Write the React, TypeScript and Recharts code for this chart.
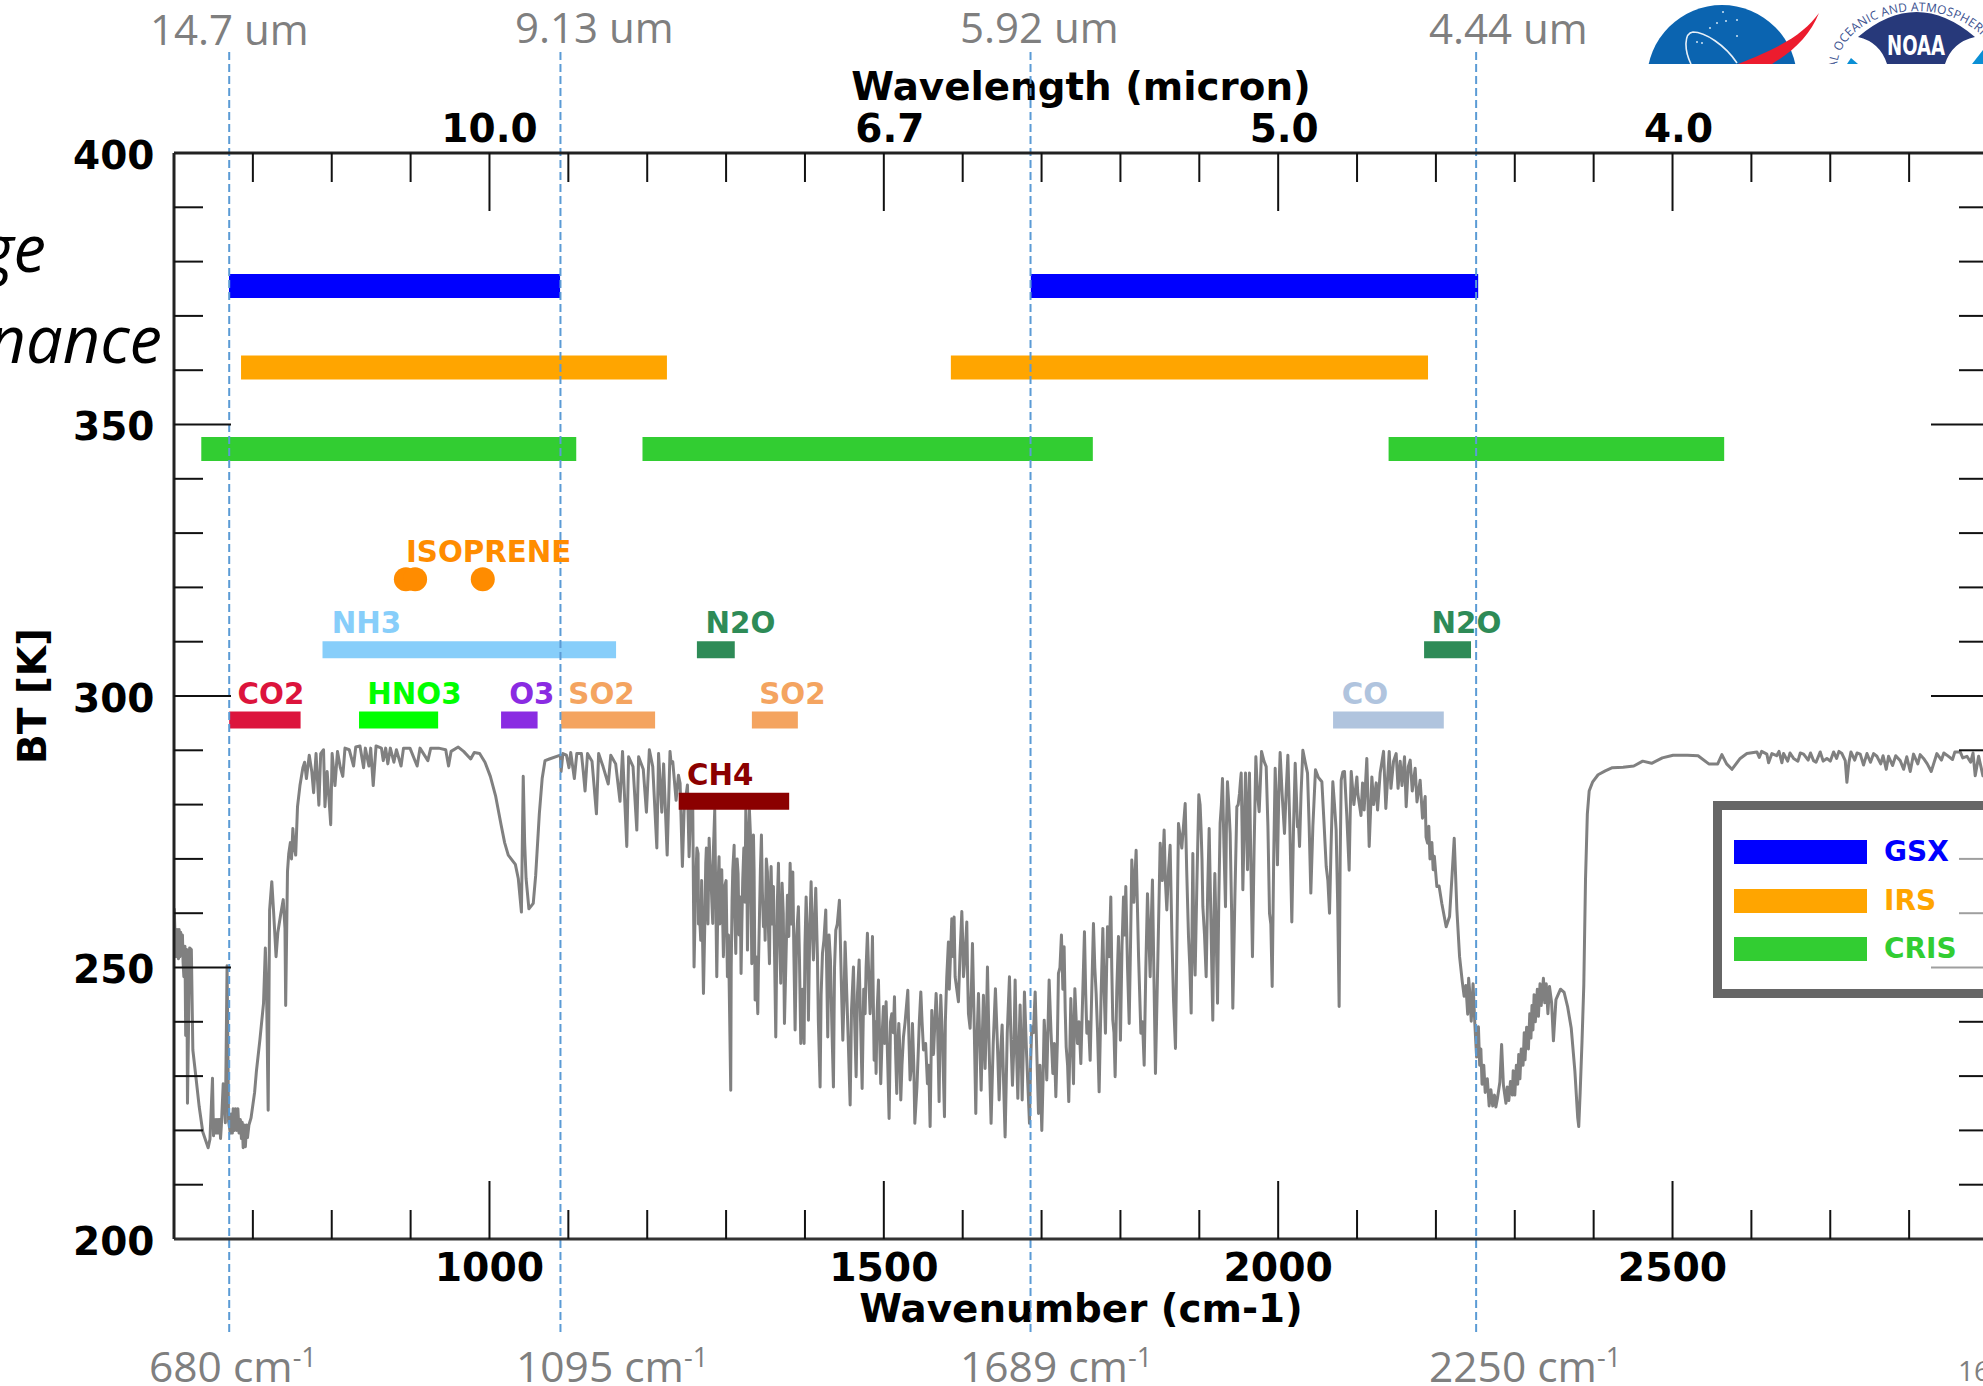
import React from 'react';
import { ComposedChart, Line, XAxis, YAxis, ReferenceLine, ReferenceDot, Legend } from 'recharts';

const FONT = '"DejaVu Sans", sans-serif';
const ANNOT = '"Open Sans", sans-serif';

const wnTicks = [700, 800, 900, 1000, 1100, 1200, 1300, 1400, 1500, 1600, 1700, 1800, 1900, 2000, 2100, 2200, 2300, 2400, 2500, 2600, 2700, 2800];
const btTicks = [200, 210, 220, 230, 240, 250, 260, 270, 280, 290, 300, 310, 320, 330, 340, 350, 360, 370, 380, 390, 400];
const micronLabels: Record<number, string> = { 1000: '10.0', 1500: '6.7', 2000: '5.0', 2500: '4.0' };

const spectrumCO2 = [
  [600.3,260.9],[601.5,255],[602.6,252],[603.3,254],[604,257],[605.7,251.6],[606.5,257],[607.5,252],[608.5,256.5],[609.5,252.5],[610.7,256],[611.5,251],[612.5,248.3],[613.9,253.9],[614.8,237.5],[616.2,253.3],[617.1,225],[619.8,253.6],[622,253.3],[623.9,234.8],[627.5,230.2],[632,224.3],[636.5,219.7],[643.3,216.8],[645.6,218.4],[648.8,229.6],[650.1,219],[651,222],[652.4,219.5],[653.5,222],[654.5,219.5],[656,222],[656.9,219.5],[658,222],[659,218.5],[660.1,221],[662.4,228.6],[665.1,221.4],[667.3,250.3],[669.2,221.7],[671.4,219.5],[672.5,223],[674,219.5],[675,224],[676.5,220],[678,224],[679.6,220],[681,224],[682.5,219.5],[684.1,222],[685.5,218.5],[686.5,221.5],[687.7,216.8],[689,221],[690.5,217],[692,221],[693.2,218.7],[695,221],[697.7,222.3],[702.2,227],[704.5,230.9],[709,236.8],[713.5,243.4],[715.8,253.6],[717.2,247.3],[719.4,223.7],[721.2,260.5],[724,265.8],[726.2,260.5],[729.4,252],[731.7,256.5],[735.3,259.8],[738.5,262.5],[740.7,257.2],[741.6,243],[743.9,267.7],[745.5,271],[747.5,273],[749,270],[750.7,275.6],[752.5,272],[754.3,270.7],[756.6,279.6],[759.7,283.5],[763.4,286.8],[765.6,287.8],[767.9,284.8],
];
const spectrumWindow = [
  [771.5,289.1],[774.7,286.1],[777,282.2],[780.1,289.4],[783.7,279.9],[786,289.4],[789.6,290.1],[791.4,279.6],[794.2,286.1],[798.7,276.3],[800.5,289.4],[804.1,283.5],[807.3,289.8],[810.9,286.8],[814,285.2],[816.8,290.4],[822.2,290.1],[827.7,287.1],[830.4,290.6],[835.8,290.8],[840.4,286.8],[842.6,290.4],[847.1,287.1],[849.4,290.4],[852.6,283.5],[856.2,290.8],[863,290.4],[865.3,288.1],[868.4,290.4],[871.1,287.5],[874.3,290.4],[878.8,287.8],[882,290.1],[887.9,287.1],[891,290.4],[899.2,290.4],[908.3,287.1],[911.9,290.4],[921.9,288.1],[925.5,290.4],[935.5,290.4],[944.5,290.1],[948.1,287.1],[951.3,289.8],[960.4,290.6],[967.2,289.8],[976.2,288.4],[980.7,289.6],[987.5,289.4],[994.3,287.8],
];
const spectrumOzone = [
  [1001.1,285.2],[1007.9,281.5],[1014.7,276.3],[1019.2,273],[1023.8,270.7],[1032.8,269],[1036.5,266.4],[1040.5,260.2],[1042.8,285.2],[1044.6,273],[1046.4,266.4],[1050,260.8],[1055.5,261.8],[1058.6,267],[1063.2,278.3],[1066.8,284.8],[1070.4,288.1],[1075.9,288.4],[1089.9,289.1],[1090.8,286.1],[1093.1,289.4],[1097.6,289.1],[1100.8,286.8],[1103,289.6],[1105.5,287],[1107.6,284.8],[1110.7,289.4],[1116.6,289.4],[1119,286],[1121.2,282.5],[1124.3,289.4],[1130,288],[1135.6,278.3],[1138.4,289.4],[1144,287],[1150.6,283.8],[1153.8,289.1],[1160,287.5],[1165.5,280.6],[1168.7,289.8],[1174.1,272.3],[1176.4,288.8],[1182,287],[1186.8,275.3],[1189.1,288.8],[1195,286.5],[1199,278.6],[1202.7,290.1],[1207,287],[1212.2,272],[1214.4,289.4],[1218.5,278.6],[1220.8,287.5],[1225.3,270.7],[1228.9,289.8],
];
const spectrumWaterA = [
  [1230.3,287.6],[1232.4,287.9],[1236.6,280.8],[1239.6,285.4],[1241.7,283.9],[1244.6,268.6],[1246.8,279],[1251,283.6],[1253.1,270.4],[1255.6,281.4],[1257.7,280.2],[1259.4,250.1],[1262,267.9],[1264.5,271],[1266.2,260],[1267.9,255],[1271.3,245.2],[1274.2,269.2],[1276.3,262.4],[1278.5,273.8],[1280.6,267.3],[1283.1,258.1],[1285.6,279],[1288.2,248.3],[1291.1,270.4],[1293.3,264.9],[1296.6,252],[1298.7,265.2],[1301.7,248.3],[1305.9,227.4],[1307.6,262.4],[1310.2,272.5],[1312.3,252.6],[1315.2,267.3],[1319,248.9],[1321.1,266.1],[1325,279],[1327.1,253.2],[1329.6,279],[1332.6,250.7],[1334.7,274.4],[1336.8,244],[1340.2,241.5],[1342.3,259.3],[1344.8,274.4],[1347.4,257.5],[1349.5,255],[1352.4,267.6],[1355,250.7],[1357.1,268.6],[1360,264.9],[1363,237.2],[1366.4,269.2],[1369.3,247.1],[1371,265.5],[1374,239.7],[1377.8,263.3],[1379.5,255.7],[1381.2,269.2],[1384.6,267.6],[1387.5,238.5],[1391.7,261.2],[1394.7,236],[1398.9,236],[1401.5,263],[1404.4,240.3],[1407.8,265.8],[1410.8,251.4],[1413.7,264.6],[1415.8,252],[1419.2,228],[1422.2,252.6],[1426.4,260.6],[1428.9,237.2],[1432.3,251.4],[1436.1,228],[1439.1,256.9],[1443.7,262.4],[1448,236.6],[1450.9,254.7],[1453,245.2],[1457.3,224.7],[1461.5,250.1],[1464.9,229.9],[1468.7,251.4],[1472.5,227.7],[1476.3,241.5],[1479.2,256.3],[1482.6,241.5],[1485.6,255.7],[1487.7,232.9],[1490.2,230.5],[1493.2,247.7],[1496.1,228.6],[1499.5,242.8],[1502.9,243.7],[1506.7,222.2],[1510.1,241.5],[1513.5,244.6],[1516.4,226.8],[1519,239.7],[1521.5,225.6],[1524.9,237.2],[1530.4,245.8],[1533.3,229.3],[1536.3,239.7],[1539.3,221.3],[1543.9,235.4],[1546.9,245.5],[1550.3,234.8],[1555.3,228.6],[1558.7,220.7],
];
const spectrumWaterADetail = [
  [1261,262],[1263,272],[1265,258],[1269,266],[1273,258],[1275,272],[1277,258],[1279.5,270],[1282,262],[1284,272],[1287,262],[1290,266],[1292,258],[1294.5,268],[1297.5,258],[1300,266],[1303,256],[1306.5,250],[1308.5,268],[1311,260],[1314,270],[1316.5,256],[1318,263],[1320,258],[1322.5,272],[1324,262],[1326,275],[1328,262],[1331,274],[1333.5,262],[1335.5,268],[1338,252],[1341,250],[1343.5,268],[1346,264],[1348.5,262],[1351,270],[1353.5,258],[1356,264],[1358.5,258],[1361.5,252],[1365,262],[1367.5,258],[1370,256],[1372.5,260],[1376,252],[1379,260],[1383,258],[1386,252],[1389.5,256],[1393,252],[1397,246],[1400,254],[1403,256],[1406,256],[1409,258],[1412,258],[1417,240],[1420.5,245],[1424,255],[1427.5,250],[1430.5,256],[1434,240],[1437.5,250],[1441,258],[1446,248],[1449.5,244],[1452,250],[1455,236],[1459,242],[1463,240],[1466.5,245],[1470.5,240],[1474.5,246],[1477.5,250],[1481,248],[1484,246],[1489,240],[1491.5,242],[1494.5,238],[1498,238],[1501,236],[1505,232],[1508.5,240],[1512,238],[1515,234],[1517.5,235],[1520,236],[1523,232],[1527,240],[1532,236],[1535,232],[1538,232],[1542,228],[1545,240],[1548.5,240],[1553,236],[1557,232],
];
const spectrumWaterB = [
  [1560.8,242.1],[1566.3,245.2],[1570.1,225.3],[1572.2,244.9],[1576.9,222.5],[1579.8,248.3],[1581.9,254.7],[1586.2,259],[1589.1,259.3],[1590.4,248.3],[1594.6,243.7],[1598.9,260.3],[1601,248.3],[1605.2,258.4],[1607.3,241.5],[1609.4,238.8],[1612.4,254.4],[1616.6,223.1],[1620,245.2],[1623.4,227.4],[1626.3,244.9],[1628.4,231.4],[1631.4,250.1],[1636,221.3],[1641.5,246.1],[1646.2,225.6],[1650,239.4],[1653.8,218.8],[1659.3,248.3],[1663.1,228.3],[1666.5,247.7],[1669.9,225.9],[1672.8,243.1],[1675.4,225.6],[1678.3,245.5],[1684.7,221.3],[1687.6,239.1],[1691.9,245.5],[1696.1,223.1],[1700.3,220],[1703.3,240.3],[1706.6,229.3],[1709.6,247.7],[1714.3,230.5],[1718.1,226.2],[1721.4,248.9],[1725.2,256],[1728.6,253.8],[1731.2,235.4],[1734.5,225.3],[1737.1,244.3],[1740.5,228.6],[1742.2,246.1],[1745.5,236],[1749.8,232.3],[1754.4,256.6],[1757.4,237.9],[1761.6,232.9],[1765.8,258.1],[1769.2,245.2],[1773,227.1],[1777.7,257.2],[1781,237.9],[1783.6,257.5],[1787.8,263],[1790.3,240.3],[1793.3,229.9],[1797.5,255.7],[1800,236.6],[1803.9,263],[1806.8,264.9],[1811.1,239.7],[1814.4,269.8],[1819.9,271.6],[1825.9,237.9],[1830.1,232],[1834.3,263.6],[1837.7,248.3],[1840.6,266.1],[1844.4,230.5],[1850.4,272.9],[1855.4,275.3],[1858.8,260.6],[1863,272.5],[1867.3,244],[1869.8,235.1],[1873.6,276.5],[1882.1,280.2],[1886.3,255.7],
];
const spectrumWaterBDetail = [
  [1563,234],[1568,240],[1571,236],[1574.5,236],[1578,240],[1583,246],[1588,252],[1592.5,246],[1596.5,252],[1600,255],[1603,252],[1606.3,248],[1611,246],[1614.5,240],[1618,236],[1621.7,236],[1625,238],[1627.4,236],[1630,240],[1633.7,234],[1638.7,236],[1644,236],[1648,234],[1652,228],[1656.5,238],[1661,238],[1665,236],[1668,236],[1671.4,236],[1674,236],[1677,236],[1681,234],[1686,232],[1689.7,238],[1694,234],[1698,232],[1702,230],[1705,236],[1708,238],[1712,238],[1716.2,236],[1720,236],[1723.3,250],[1727,246],[1730,242],[1733,232],[1736,236],[1739,236],[1741.5,240],[1744,240],[1747.5,240],[1752,244],[1756,245],[1759.5,240],[1763.7,246],[1767.5,250],[1771,238],[1775.5,245],[1779.3,246],[1782.5,250],[1785.7,252],[1789,250],[1791.8,238],[1795.4,246],[1798.8,248],[1802,254],[1805.3,256],[1809,250],[1813,256],[1817,262],[1823,252],[1828,240],[1832.2,250],[1836,256],[1839,258],[1842.5,248],[1847.5,252],[1853,266],[1857,266],[1861,268],[1865.2,256],[1871.7,256],[1877.8,272],[1884,268],[1888,250],
];
const spectrumWaterC = [
  [1889.7,241.6],[1891.8,271],[1894.7,248.6],[1899.4,281.8],[1902.3,275.3],[1904.5,261.2],[1908.7,248.3],[1912.5,275.6],[1917.1,240.3],[1919.7,267.3],[1923.1,243.4],[1926.4,276.6],[1929.4,284.8],[1933.2,261.2],[1935.7,284.2],[1939.1,274.7],[1942.5,242.5],[1947.6,279.6],[1951,282.1],[1953.1,285.8],[1955.2,264.3],[1958.6,285.8],[1961.1,268],[1963.6,285.8],[1967.4,252],[1971.7,288.8],[1975.9,278.7],[1978.9,289.8],[1984.8,287],[1989,260],[1992.4,246.5],[1996.2,286.7],[1999.1,268.9],[2002.5,289.6],[2008,274.7],[2012.3,289.1],[2017.3,258.4],[2021.6,287.6],[2024.5,275.9],[2027.1,272.3],[2031.3,290],[2037.2,285.8],[2041.4,263.7],[2047.3,286.4],[2055.4,284.2],[2060.9,268.6],[2065.1,260],[2069.3,284.2],[2073.5,275.3],[2077.3,242.8],[2079.9,284.5],[2084.1,286.1],[2090,267.9],[2092.6,286.1],[2099.8,285.1],[2103,280],[2107,284],[2109,279],[2112.4,288.5],[2115.4,272.3],[2118.8,285.1],[2121,280],[2124.3,284],[2126,279],[2129.3,285.8],[2133.6,289.8],[2136.5,279.3],[2140.8,289.8],[2143,283],[2146.3,288],[2149.6,289.4],[2152,283],[2154.7,288],[2157,283.5],[2160.2,288.8],[2162.3,279.6],[2165,287],[2167.4,288.2],[2170,282.5],[2173.7,286.7],[2176,280.5],[2180,284.5],[2183,277.5],[2185,280],[2186.4,281.5],[2187.5,274],[2189.4,272.9],[2191,276],[2192.5,270],[2194.9,273],[2196.5,268],[2198,270.5],[2201.2,264.9],[2204,265],[2207.5,261.8],[2213,257.5],[2217.3,259.4],[2220.6,267.3],[2223.2,273.8],[2226.6,260.6],[2230,252],
];
const spectrumWaterCDetail = [
  [1890.7,256],[1893,256],[1897,266],[1901,280],[1903.4,270],[1906.6,256],[1910.6,264],[1914.8,258],[1918.4,258],[1921.4,256],[1924.7,262],[1928,280],[1931.3,272],[1934.4,276],[1937.4,280],[1941,260],[1945,262],[1949.3,280],[1952,284],[1954.2,276],[1957,276],[1959.9,278],[1962.3,278],[1965.5,268],[1969.5,272],[1973.8,282],[1977.4,284],[1982,288],[1987,276],[1990.7,258],[1994.3,270],[1997.6,280],[2000.8,282],[2005,282],[2010,282],[2014.8,276],[2019.5,276],[2023,282],[2026,276],[2029,282],[2034,288],[2039.3,276],[2044,276],[2051,285],[2058,277],[2063,266],[2067,272],[2071.4,280],[2075.4,262],[2078.6,270],[2082,286],[2087,278],[2091.3,278],[2096,280],[2101,282],[2105,278],
];
const spectrumN2OCO2 = [
  [2233.5,247.3],[2235.8,244.7],[2238,246.7],[2240.3,241.4],[2241.5,248],[2242.6,246],[2244.8,240.1],[2247.1,247],[2249.3,239.8],[2251.6,233.5],[2253.9,239.1],[2255.5,232],[2257,235],[2258.5,228.5],[2260.7,232],[2262.5,227],[2265.2,229.5],[2267.5,224.5],[2269.7,227.5],[2272,224.5],[2274.3,226.5],[2276,224.3],[2277.9,225.8],[2281.1,228.9],[2283.3,235.8],[2285.6,228.3],[2288.8,225],[2290.5,228],[2292.4,225.5],[2294.5,229],[2296.9,226.5],[2298,231],[2300,226.5],[2302,232],[2303.7,228.5],[2305,234],[2306.5,229.5],[2308.2,235],[2310.5,232],[2312,238],[2313,233],[2315,239],[2317.3,235],[2319,241.5],[2320.5,237],[2321.8,243],[2323,238.5],[2324.5,245],[2326,240],[2328.6,246],[2330,241],[2332,247],[2333.5,243],[2336.3,248],[2338,243.5],[2339.9,247],[2342,241.5],[2344,246.5],[2346.7,243.5],[2349,236.5],[2352.2,244.1],[2358,246],[2362.6,245.4],[2367.1,242.7],[2371.6,238.8],[2376.2,230.9],[2379.8,222.3],[2381.1,220.7],[2382.9,227],[2385.2,236.2],[2387.5,246.7],[2389.7,266.4],[2392,278.3],[2394.3,282.5],[2398.8,284.2],
];
const spectrumShortwave = [
  [2405.6,285.5],[2414.7,286.2],[2423.7,286.8],[2437.3,286.9],[2450.9,287.1],[2462.2,288],[2473.5,287.6],[2487.1,288.6],[2500.7,289.1],[2518.8,289.1],[2532.4,289],[2546,287.5],[2557.3,287.5],[2562.6,289.2],[2568.6,287.5],[2575.3,286.5],[2585.8,288.5],[2594.3,289.4],[2607,289.7],[2610,288.7],[2613,289.8],[2619.6,289.3],[2621.8,287.7],[2626,289.4],[2632,289],[2635,289.8],[2638.7,287.7],[2640.8,289.4],[2646,288],[2649,289.5],[2653.5,288.5],[2659,288],[2662,289.5],[2666.2,289.3],[2672,288.2],[2675,289.5],[2678.8,288.1],[2682,287.8],[2687.3,289.7],[2691,288],[2695.7,288.5],[2700,288],[2704.2,289.7],[2708,288.5],[2711,289.8],[2714.8,289.4],[2719,288.1],[2721.1,284.1],[2723.6,287.7],[2726.2,289.7],[2731,288.2],[2734,289.5],[2738,289.3],[2742.2,287.3],[2746.5,289.4],[2751,287.8],[2755,289.4],[2759.1,288.9],[2764,287.5],[2767,289],[2771,286.5],[2773.9,288.9],[2779,287.2],[2783,289],[2788.7,288.1],[2793,286.5],[2797,288.8],[2801.4,286.1],[2805.6,289.3],[2811,287.5],[2814,289.2],[2818.3,288.5],[2823,287.5],[2828,286.1],[2835.2,289.4],[2841,288.2],[2844,289.5],[2847.9,289.1],[2855,288.3],[2858,289.7],[2864.8,289.7],[2868,288.6],[2873.3,288.9],[2878,287.8],[2881,289.5],[2883.8,285.3],[2888.1,288.9],[2893.6,285.3],[2900,289],
];
const spectrum = [
  ...spectrumCO2, ...spectrumWindow, ...spectrumOzone, ...spectrumWaterA, ...spectrumWaterADetail,
  ...spectrumWaterB, ...spectrumWaterBDetail, ...spectrumWaterC, ...spectrumWaterCDetail, ...spectrumN2OCO2, ...spectrumShortwave,
]
  .sort((a, b) => a[0] - b[0])
  .map(([wn, bt]) => ({ wn, bt }));

const instruments = [
  { name: 'GSX', color: '#0000FF', bt: 375.5, ranges: [[669.7, 1089.5], [1686.4, 2253.6]] },
  { name: 'IRS', color: '#FFA500', bt: 360.5, ranges: [[685, 1225], [1585, 2190]] },
  { name: 'CRIS', color: '#32CD32', bt: 345.5, ranges: [[634.6, 1110], [1194, 1765], [2140, 2565.5]] },
];
const species = [
  { name: 'CO2', color: '#DC143C', bt: 295.6, from: 670, to: 760.5, labelWn: 680.5, labelBt: 298.6 },
  { name: 'HNO3', color: '#00FF00', bt: 295.6, from: 834.6, to: 934.9, labelWn: 845, labelBt: 298.6 },
  { name: 'O3', color: '#8A2BE2', bt: 295.6, from: 1014.7, to: 1061, labelWn: 1025, labelBt: 298.6 },
  { name: 'SO2', color: '#F4A460', bt: 295.6, from: 1090.8, to: 1210, labelWn: 1100, labelBt: 298.6 },
  { name: 'SO2', color: '#F4A460', bt: 295.6, from: 1332.7, to: 1391, labelWn: 1342, labelBt: 298.6 },
  { name: 'CO', color: '#B0C4DE', bt: 295.6, from: 2069.6, to: 2210, labelWn: 2080.5, labelBt: 298.6 },
  { name: 'CH4', color: '#8B0000', bt: 280.6, from: 1239.9, to: 1380, labelWn: 1250.5, labelBt: 283.6 },
  { name: 'NH3', color: '#87CEFA', bt: 308.5, from: 788.3, to: 1160.5, labelWn: 800, labelBt: 311.6 },
  { name: 'N2O', color: '#2E8B57', bt: 308.5, from: 1263, to: 1311, labelWn: 1274, labelBt: 311.6 },
  { name: 'N2O', color: '#2E8B57', bt: 308.5, from: 2185, to: 2244.5, labelWn: 2194.5, labelBt: 311.6 },
];
const isoprene = [{ wn: 894, bt: 321.5 }, { wn: 905.7, bt: 321.5 }, { wn: 991.5, bt: 321.5 }];
const isopreneLabel = { wn: 894, bt: 324.6 };
const channelEdges = [670, 1090, 1686, 2251];
const topAnnotations = [
  { text: '14.7 um', x: 150, y: 45 },
  { text: '9.13 um', x: 515, y: 43 },
  { text: '5.92 um', x: 960, y: 43 },
  { text: '4.44 um', x: 1429, y: 44 },
];
const bottomAnnotations = [
  { text: '680 cm', x: 149 },
  { text: '1095 cm', x: 516 },
  { text: '1689 cm', x: 960 },
  { text: '2250 cm', x: 1429 },
];

const BottomTick = ({ x, y, payload }: any) => {
  const major = payload.value % 500 === 0;
  return (
    <g>
      <line x1={x} x2={x} y1={y} y2={y - (major ? 58 : 29)} stroke="#111" strokeWidth={2} />
      {major && (
        <text x={x} y={y + 42} textAnchor="middle" fontFamily={FONT} fontWeight={700} fontSize={39.3} fill="#000">
          {payload.value}
        </text>
      )}
    </g>
  );
};
const TopTick = ({ x, y, payload }: any) => {
  const label = micronLabels[payload.value];
  return (
    <g>
      <line x1={x} x2={x} y1={y} y2={y + (label ? 58 : 29)} stroke="#111" strokeWidth={2} />
      {label && (
        <text x={x + (payload.value === 1000 ? 0 : 6)} y={y - 11} textAnchor="middle" fontFamily={FONT} fontWeight={700} fontSize={39} fill="#000">
          {label}
        </text>
      )}
    </g>
  );
};
const LeftTick = ({ x, y, payload }: any) => {
  const major = payload.value % 50 === 0;
  return (
    <g>
      {payload.value > 200 && payload.value < 400 && (
        <line x1={x} x2={x + (major ? 57 : 29)} y1={y} y2={y} stroke="#111" strokeWidth={2} />
      )}
      {major && (
        <text x={x - 19.5} y={y + 15.5} textAnchor="end" fontFamily={FONT} fontWeight={700} fontSize={39} fill="#000">
          {payload.value}
        </text>
      )}
    </g>
  );
};
const RightTick = ({ x, y, payload }: any) => {
  const major = payload.value % 50 === 0;
  if (payload.value <= 200 || payload.value >= 400) return <g />;
  return <line x1={x} x2={x - (major ? 57 : 29)} y1={y} y2={y} stroke="#111" strokeWidth={2} />;
};

const bandLabel = (name: string, color: string) => (p: any) => (
  <text x={p.cx} y={p.cy} fontFamily={FONT} fontWeight={700} fontSize={29.3} fill={color}>
    {name}
  </text>
);

const LegendBox = () => (
  <div style={{ position: 'relative', boxSizing: 'border-box', width: 340, height: 197, border: '9px solid #666', background: 'rgba(255,255,255,0.6)' }}>
    {instruments.map((d, i) => (
      <React.Fragment key={d.name}>
        <div style={{ position: 'absolute', left: 12, top: 30 + i * 48.5, width: 133, height: 24, background: d.color }} />
        <div style={{ position: 'absolute', left: 162, top: 25 + i * 48.5, fontFamily: FONT, fontWeight: 700, fontSize: 28, lineHeight: '34px', color: d.color }}>
          {d.name}
        </div>
      </React.Fragment>
    ))}
  </div>
);

const Logos = () => (
  <g>
    <defs>
      <clipPath id="logoClip"><rect x={1640} y={0} width={343} height={64} /></clipPath>
      <path id="noaaArc" d="M1837,69 A79.5,58 0 0 1 1996,69" fill="none" />
    </defs>
    <g clipPath="url(#logoClip)">
      <circle cx={1722} cy={80} r={75} fill="#0B64B0" />
      <path d="M1737,63 C1725,45 1705,32 1693,32 C1684,33 1684,50 1691,64" fill="none" stroke="#E8F0F8" strokeWidth={1.6} />
      {[[1723, 12], [1737, 20], [1726, 21], [1717, 23], [1737, 36], [1710, 28], [1697, 42], [1702, 43]].map(([cx, cy], i) => (
        <circle key={i} cx={cx} cy={cy} r={1} fill="#CFE3F5" />
      ))}
      <path d="M1819,13 C1805,32 1785,46 1738,64 L1772,64 C1795,50 1810,35 1819,13 Z" fill="#EC1C2E" />
      <path d="M1847,64 L1851,58 L1858,64 Z" fill="#0A8FD5" />
      <path d="M1972,64 L1983,50 L1983,64 Z" fill="#0A8FD5" />
      <path d="M1858,37 Q1916.5,-13 1975,37 Q1952,42 1945,64 L1887,64 Q1880,42 1858,37 Z" fill="#27397A" />
      <text x={1887} y={55} textLength={58} lengthAdjust="spacingAndGlyphs" fontFamily={FONT} fontWeight={700} fontSize={27} fill="#fff">NOAA</text>
      <text fontFamily={ANNOT} fontSize={12} fill="#3C5290" letterSpacing={0.2}>
        <textPath href="#noaaArc">AL OCEANIC AND ATMOSPHERIC AD</textPath>
      </text>
    </g>
  </g>
);

const Annotations = () => (
  <g>
    {topAnnotations.map((d) => (
      <text key={d.text} x={d.x} y={d.y} fontFamily={ANNOT} fontSize={42} fill="#7F7F7F">{d.text}</text>
    ))}
    {bottomAnnotations.map((d) => (
      <text key={d.text} x={d.x} y={1382} fontFamily={ANNOT} fontSize={42.5} fill="#7F7F7F">
        {d.text}
        <tspan dy={-15} fontSize={27}>-1</tspan>
      </text>
    ))}
    <text x={1958} y={1381} fontFamily={ANNOT} fontSize={28} fill="#7F7F7F">16</text>
    <text x={46} y={272} textAnchor="end" fontFamily={ANNOT} fontStyle="italic" fontSize={65} fill="#000">ge</text>
    <text x={162} y={363} textAnchor="end" fontFamily={ANNOT} fontStyle="italic" fontSize={65} fill="#000">nance</text>
    <text x={1081} y={100} textAnchor="middle" fontFamily={FONT} fontWeight={700} fontSize={38.8} fill="#000">Wavelength (micron)</text>
    <text x={1081} y={1322} textAnchor="middle" fontFamily={FONT} fontWeight={700} fontSize={38.8} fill="#000">Wavenumber (cm-1)</text>
    <text transform="translate(46,696) rotate(-90)" textAnchor="middle" fontFamily={FONT} fontWeight={700} fontSize={39} fill="#000">BT [K]</text>
    <Logos />
  </g>
);

export default function App() {
  return (
    <div style={{ position: 'absolute', left: 0, top: 0, width: 1983, height: 1386, overflow: 'hidden', background: '#fff' }}>
      <ComposedChart width={2100} height={1386} margin={{ left: 20, top: 53, right: 72, bottom: 47 }}>
        <XAxis dataKey="wn" type="number" domain={[600, 2900]} allowDataOverflow ticks={wnTicks} interval={0} height={100} tickSize={0} tickMargin={0} tickLine={false} tick={BottomTick} axisLine={{ stroke: '#333', strokeWidth: 3 }} />
        <XAxis xAxisId="top" orientation="top" dataKey="wn" type="number" domain={[600, 2900]} allowDataOverflow ticks={wnTicks} interval={0} height={100} tickSize={0} tickMargin={0} tickLine={false} tick={TopTick} axisLine={{ stroke: '#222', strokeWidth: 3 }} />
        <YAxis type="number" domain={[200, 400]} allowDataOverflow ticks={btTicks} interval={0} width={154} tickSize={0} tickMargin={0} tickLine={false} tick={LeftTick} axisLine={{ stroke: '#222', strokeWidth: 3 }} />
        <YAxis yAxisId="right" orientation="right" type="number" domain={[200, 400]} allowDataOverflow ticks={btTicks} interval={0} width={40} tickSize={0} tickMargin={0} tickLine={false} tick={RightTick} axisLine={{ stroke: '#222', strokeWidth: 3 }} />

        <Line data={spectrum} dataKey="bt" stroke="#808080" strokeWidth={3} dot={false} isAnimationActive={false} legendType="none" strokeLinejoin="round" />

        {instruments.flatMap((d) =>
          d.ranges.map((r, i) => (
            <Line key={`${d.name}-${i}`} data={[{ wn: r[0], bt: d.bt }, { wn: r[1], bt: d.bt }]} dataKey="bt" stroke={d.color} strokeWidth={24} dot={false} isAnimationActive={false} legendType="none" />
          ))
        )}
        {species.map((d, i) => (
          <Line key={`${d.name}-${i}`} data={[{ wn: d.from, bt: d.bt }, { wn: d.to, bt: d.bt }]} dataKey="bt" stroke={d.color} strokeWidth={17} dot={false} isAnimationActive={false} legendType="none" />
        ))}
        <Line data={isoprene} dataKey="bt" stroke="none" dot={{ r: 12, fill: '#FF8C00', stroke: 'none' }} isAnimationActive={false} legendType="none" />

        {species.map((d, i) => (
          <ReferenceDot key={`l-${i}`} x={d.labelWn} y={d.labelBt} r={0} shape={bandLabel(d.name, d.color)} />
        ))}
        <ReferenceDot x={isopreneLabel.wn} y={isopreneLabel.bt} r={0} shape={bandLabel('ISOPRENE', '#FF8C00')} />

        {channelEdges.map((wn) => (
          <ReferenceLine key={wn} ifOverflow="visible" segment={[{ x: wn, y: 418.6 }, { x: wn, y: 182.5 }]} stroke="#5B9BD5" strokeWidth={2} strokeDasharray="8 4" />
        ))}
        <Legend layout="horizontal" verticalAlign="middle" align="center" wrapperStyle={{ left: 1713, top: 801, width: 340, height: 197 }} content={LegendBox} />
        <Annotations />
      </ComposedChart>
    </div>
  );
}
